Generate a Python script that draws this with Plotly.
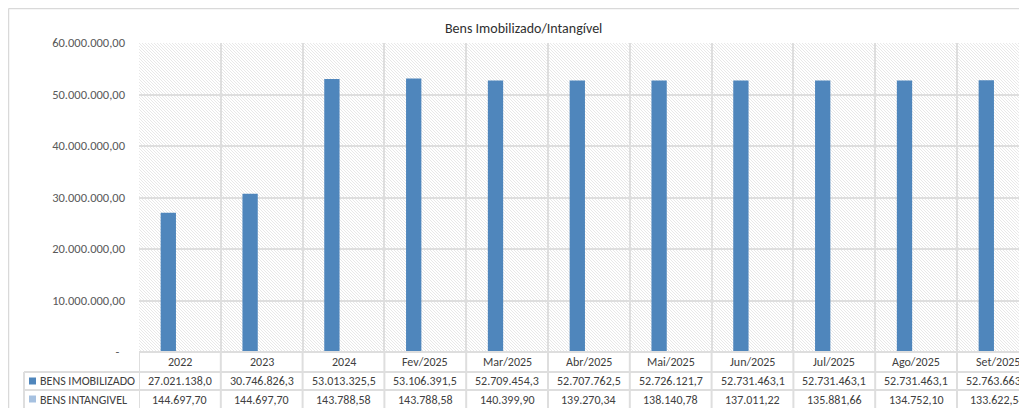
import base64
import plotly.graph_objects as go

# ---------------- data ----------------
categories = ["2022", "2023", "2024", "Fev/2025", "Mar/2025", "Abr/2025", "Mai/2025",
              "Jun/2025", "Jul/2025", "Ago/2025", "Set/2025"]
imobilizado = [27021138.0, 30746826.3, 53013325.5, 53106391.5, 52709454.3, 52707762.5,
               52726121.7, 52731463.1, 52731463.1, 52731463.1, 52763663.1]
intangivel = [144697.70, 144697.70, 143788.58, 143788.58, 140399.90, 139270.34,
              138140.78, 137011.22, 135881.66, 134752.10, 133622.54]
imobilizado_labels = ["27.021.138,0", "30.746.826,3", "53.013.325,5", "53.106.391,5",
                      "52.709.454,3", "52.707.762,5", "52.726.121,7", "52.731.463,1",
                      "52.731.463,1", "52.731.463,1", "52.763.663,1"]
intangivel_labels = ["144.697,70", "144.697,70", "143.788,58", "143.788,58", "140.399,90",
                     "139.270,34", "138.140,78", "137.011,22", "135.881,66", "134.752,10",
                     "133.622,54"]
series_names = ["BENS IMOBILIZADO", "BENS INTANGIVEL"]
y_tickvals = [0, 10000000, 20000000, 30000000, 40000000, 50000000, 60000000]
y_ticktext = ["-\u00a0\u00a0", "10.000.000,00", "20.000.000,00", "30.000.000,00",
              "40.000.000,00", "50.000.000,00", "60.000.000,00"]
title_text = "Bens Imobilizado/Intangível"

# ---------------- layout geometry (page pixels; page body has an 8px margin) ----------------
OX, OY = 8, 8
W, H = 1027 - OX, 408 - OY
PL, PR, PT, PB = 139, 1027, 43, 352   # plot area in page pixels
CAT_W = 81.8
FONT = "Calibri, Carlito, Lato, sans-serif"
GRID = "#dedede"
TXT = "#404040"
C1, C2 = "#4f86bc", "#a6c1e0"


def px(x):
    return (x - OX) / W


def py(y):
    return 1 - (y - OY) / H


# hatch background image
svg = (
    f"<svg xmlns='http://www.w3.org/2000/svg' width='{PR-PL}' height='{PB-PT}'>"
    "<defs><pattern id='p' width='3' height='3' patternUnits='userSpaceOnUse'>"
    "<path d='M-1,-1 L4,4 M-1,2 L1,4 M2,-1 L4,1' stroke='#e2e2e2' stroke-width='0.8'/>"
    "</pattern></defs>"
    "<rect width='100%' height='100%' fill='white'/>"
    "<rect width='100%' height='100%' fill='url(#p)'/></svg>"
)
svg_uri = "data:image/svg+xml;base64," + base64.b64encode(svg.encode()).decode()

fig = go.Figure()
fig.add_trace(go.Bar(x=categories, y=imobilizado, name=series_names[0],
                     marker=dict(color=C1, line=dict(width=0))))
fig.add_trace(go.Bar(x=categories, y=intangivel, name=series_names[1],
                     marker=dict(color=C2, line=dict(width=0))))

n_vis = (PR - PL) / CAT_W
shapes = []
# chart border (top and left)
shapes.append(dict(type="line", xref="paper", yref="paper", x0=px(8.5), x1=1,
                   y0=py(8.5), y1=py(8.5), line=dict(color="#d9d9d9", width=1.5)))
shapes.append(dict(type="line", xref="paper", yref="paper", x0=px(8.5), x1=px(8.5),
                   y0=py(8.5), y1=0, line=dict(color="#d9d9d9", width=1.5)))
# table horizontal lines
for yy, x0 in [(PB, PL), (372, 24), (390, 24)]:
    shapes.append(dict(type="line", xref="paper", yref="paper", x0=px(x0), x1=1,
                       y0=py(yy), y1=py(yy), line=dict(color=GRID, width=2)))
# table vertical lines
shapes.append(dict(type="line", xref="paper", yref="paper", x0=px(24), x1=px(24),
                   y0=py(372), y1=0, line=dict(color=GRID, width=2)))
for i in range(len(categories) + 1):
    shapes.append(dict(type="line", xref="x", yref="paper", x0=i - 0.5, x1=i - 0.5,
                       y0=py(PB), y1=0, line=dict(color=GRID, width=2)))
# legend keys in table
for yy, col in [(381, C1), (399, C2)]:
    shapes.append(dict(type="rect", xref="paper", yref="paper", x0=px(29), x1=px(36),
                       y0=py(yy + 3.5), y1=py(yy - 3.5), fillcolor=col, line=dict(width=0)))

annotations = []
for i, cat in enumerate(categories):
    annotations.append(dict(x=i, xref="x", y=py(362), yref="paper", text=cat,
                            showarrow=False, xanchor="center", yanchor="middle",
                            font=dict(family=FONT, size=12, color=TXT)))
    annotations.append(dict(x=i, xref="x", y=py(381), yref="paper", text=imobilizado_labels[i],
                            showarrow=False, xanchor="center", yanchor="middle",
                            font=dict(family=FONT, size=12, color=TXT)))
    annotations.append(dict(x=i, xref="x", y=py(399.5), yref="paper", text=intangivel_labels[i],
                            showarrow=False, xanchor="center", yanchor="middle",
                            font=dict(family=FONT, size=12, color=TXT)))
for yy, name in [(381, series_names[0]), (399.5, series_names[1])]:
    annotations.append(dict(x=px(38), xref="paper", y=py(yy), yref="paper", text=name,
                            showarrow=False, xanchor="left", yanchor="middle",
                            font=dict(family=FONT, size=12, color=TXT)))
annotations.append(dict(x=px(523), xref="paper", y=py(28), yref="paper", text=title_text,
                        showarrow=False, xanchor="center", yanchor="middle",
                        font=dict(family=FONT, size=14, color="#303030")))

fig.update_layout(
    width=W, height=H,
    autosize=False,
    margin=dict(l=0, r=0, t=0, b=0, pad=0, autoexpand=False),
    paper_bgcolor="white",
    plot_bgcolor="rgba(0,0,0,0)",
    showlegend=False,
    barmode="group",
    bargap=0.433,
    bargroupgap=0.34,
    font=dict(family=FONT, size=12, color=TXT),
    xaxis=dict(domain=[px(PL), 1], type="category", range=[-0.5, -0.5 + n_vis],
               showgrid=True, gridcolor=GRID, gridwidth=2, tickson="boundaries",
               showticklabels=False, ticks="", showline=False, zeroline=False,
               fixedrange=True, automargin=False),
    yaxis=dict(domain=[py(PB), py(PT)], range=[0, 60000000], tickvals=y_tickvals,
               ticktext=y_ticktext, showgrid=True, gridcolor=GRID, gridwidth=2,
               zeroline=False, showline=False, ticks="", ticklabelstandoff=13,
               tickfont=dict(family=FONT, size=12.5, color="#595959"), fixedrange=True,
               automargin=False),
    images=[dict(source=svg_uri, xref="paper", yref="paper", x=px(PL), y=py(PT),
                 sizex=(PR - PL) / W, sizey=(PB - PT) / H, xanchor="left", yanchor="top",
                 sizing="stretch", layer="below")],
    shapes=shapes,
    annotations=annotations,
)

fig.write_html("out.html")
